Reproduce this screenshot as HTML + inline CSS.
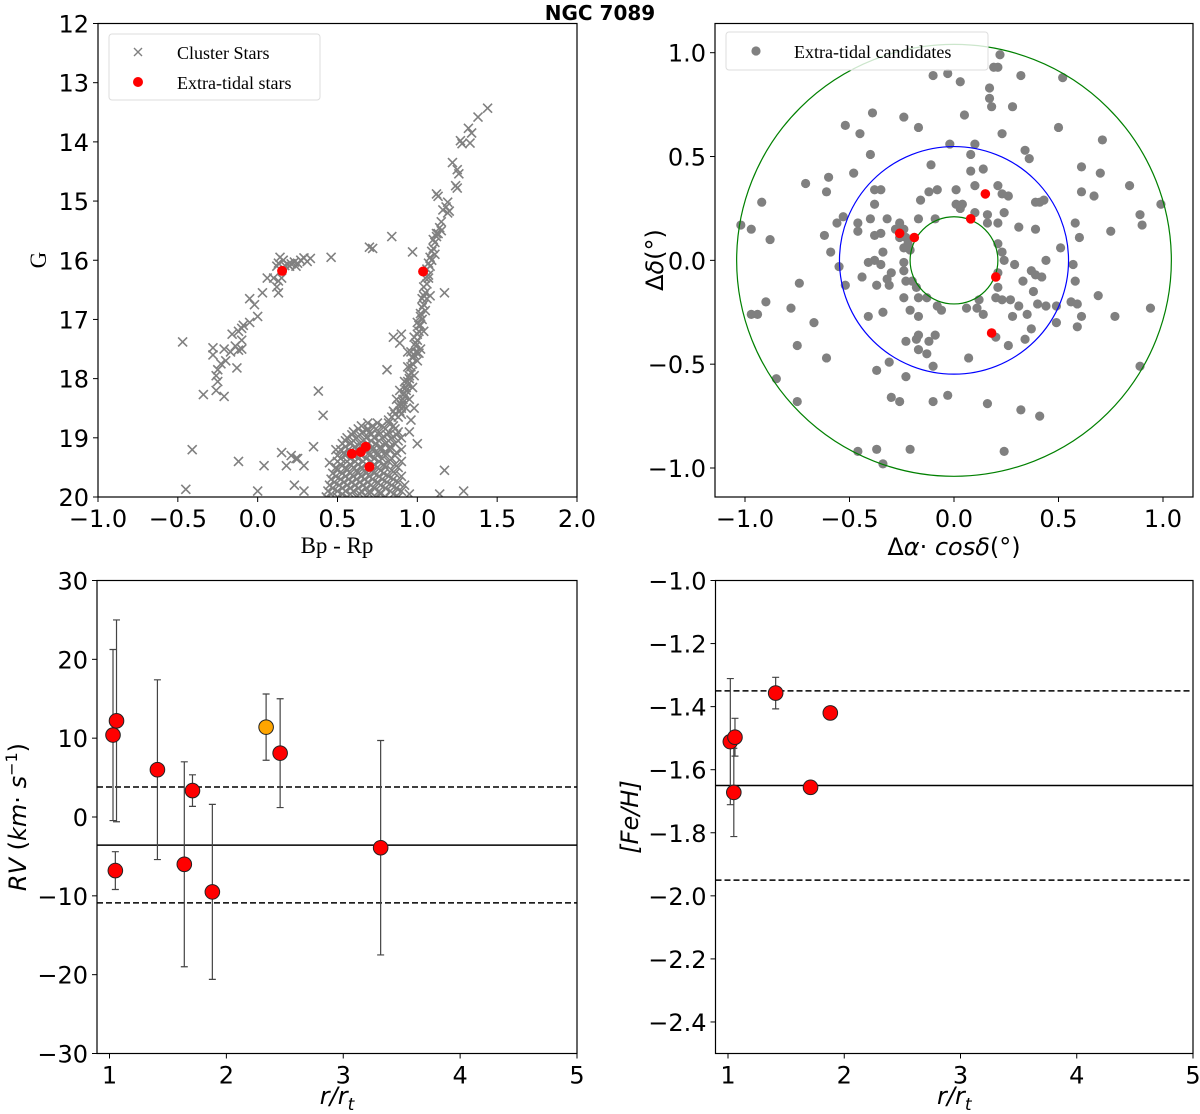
<!DOCTYPE html>
<html><head><meta charset="utf-8">
<style>
html,body{margin:0;padding:0;background:#fff;}
svg{display:block;}
.tick{font-family:"DejaVu Sans","Liberation Sans",sans-serif;font-size:24px;fill:#000;}
.serif{font-family:"Liberation Serif",serif;}
</style></head>
<body>
<svg id="fig" width="1200" height="1114" viewBox="0 0 1200 1114" xmlns="http://www.w3.org/2000/svg">
<text x="600" y="20" text-anchor="middle" font-family="DejaVu Sans, Liberation Sans, sans-serif" font-weight="bold" font-size="20">NGC 7089</text>
</svg>
<script>
// ---------- DATA ----------
const cmdRed = [[0.153,16.18],[1.036,16.19],[0.59,19.27],[0.646,19.24],[0.677,19.15],[0.70,19.49]];
const cmdStars = [
[1.44,13.43],[1.38,13.58],[1.32,13.77],[1.34,13.85],[1.27,13.98],[1.28,14.03],[1.33,14.02],[1.22,14.35],[1.25,14.47],[1.26,14.54],[1.24,14.74],[1.25,14.78],[1.12,14.88],[1.13,14.92],[1.19,15.02],[1.18,15.1],[1.19,15.2],[1.20,15.17],[1.16,15.15],[1.15,15.35],[1.14,15.45],[1.15,15.50],[1.13,15.55],[1.12,15.6],[1.11,15.7],[1.10,15.8],[1.11,15.9],[1.09,16.0],[1.08,16.1],[1.07,16.25],[1.06,16.4],[1.05,16.55],[1.06,16.65],[1.04,16.75],[1.05,16.85],[1.03,17.0],[1.02,17.1],[1.01,17.2],[1.00,17.35],[0.99,17.45],[0.98,17.6],[0.97,17.75],[0.96,17.9],[0.95,18.0],[0.94,18.1],[0.93,18.2],[0.92,18.3],[0.91,18.4],[0.9,18.5],
[1.07,16.3],[1.04,16.6],[1.08,16.6],[1.02,16.9],[1.0,17.05],[1.04,17.2],[0.98,17.3],[1.02,17.5],[0.96,17.55],[1.0,17.7],[0.94,17.8],[0.98,17.95],[0.92,18.05],[0.97,18.15],[0.89,18.2],[0.95,18.35],[0.87,18.35],[0.93,18.5],[0.85,18.55],[0.98,18.5],[0.88,18.65],[0.96,18.7],[0.82,18.7],
[1.12,15.55],[1.10,15.65],[1.09,15.85],[1.08,15.95],[1.07,16.05],[1.06,16.15],[1.05,16.3],[1.04,16.45],[1.03,16.65],[1.03,16.8],[1.02,16.95],[1.01,17.1],[1.0,17.25],[0.99,17.4],[0.99,17.55],[0.97,17.65],[0.96,17.8],[0.95,17.95],[0.94,18.05],[0.93,18.15],[0.92,18.25],[0.91,18.35],[0.9,18.45],[0.89,18.55],[0.88,18.45],[0.86,18.6],[0.84,18.65],[0.9,18.6],
[0.70,15.78],[0.72,15.8],[0.84,15.6],[0.97,15.86],[1.17,16.55],[0.85,17.3],[0.89,17.4],[0.90,17.25],[0.94,17.55],[1.01,17.57],[0.81,17.85],[0.95,18.9],[1.0,19.1],[1.17,19.55],[1.14,19.95],[1.29,19.9],
[0.46,15.95],[0.33,15.97],[0.29,15.96],[0.31,16.02],[0.27,16.0],[0.25,16.05],[0.23,16.03],[0.21,16.06],[0.19,16.07],[0.17,16.09],[0.16,16.0],[0.14,15.95],[0.13,16.05],[0.12,16.1],[0.2,16.1],[0.24,16.1],[0.1,16.3],[0.13,16.35],[0.15,16.3],[0.12,16.45],[0.13,16.55],[0.06,16.3],[0.03,16.55],[-0.05,16.65],[-0.02,16.75],[0.0,16.95],[-0.05,17.05],[-0.09,17.1],[-0.1,17.15],[-0.12,17.2],[-0.16,17.25],[-0.1,17.35],[-0.14,17.45],[-0.17,17.55],[-0.21,17.5],[-0.2,17.7],[-0.23,17.75],[-0.25,17.85],[-0.26,17.95],[-0.25,18.05],[-0.26,18.2],[-0.21,18.3],[-0.34,18.27],[-0.12,17.52],[-0.13,17.82],[-0.1,17.5],[-0.47,17.38],[-0.28,17.48],[-0.28,17.6],
[-0.41,19.2],[-0.45,19.87],[-0.12,19.4],[0.04,19.47],[0.15,19.25],[0.21,19.3],[0.18,19.47],[0.25,19.35],[0.29,19.47],[0.35,19.15],[0.23,19.8],[0.29,19.9],[0.0,19.9],[0.38,18.21],[0.41,18.62],[0.24,19.35],[0.45,19.42],[0.49,19.2],
[0.65,18.8],[0.72,18.8],[0.78,18.8],[0.85,18.8],
[0.6,18.9],[0.66,18.9],[0.7,18.9],[0.76,18.9],[0.82,18.9],[0.88,18.9],
[0.56,19.0],[0.62,19.0],[0.68,19.0],[0.73,19.0],[0.78,19.0],[0.84,19.0],[0.9,19.0],
[0.53,19.1],[0.58,19.1],[0.64,19.1],[0.69,19.1],[0.74,19.1],[0.8,19.1],[0.86,19.1],
[0.52,19.2],[0.57,19.2],[0.62,19.2],[0.67,19.2],[0.72,19.2],[0.77,19.2],[0.83,19.2],[0.9,19.2],
[0.5,19.3],[0.55,19.3],[0.6,19.3],[0.65,19.3],[0.7,19.3],[0.75,19.3],[0.8,19.3],[0.86,19.3],
[0.5,19.4],[0.56,19.4],[0.61,19.4],[0.66,19.4],[0.71,19.4],[0.76,19.4],[0.82,19.4],[0.9,19.4],
[0.49,19.5],[0.55,19.5],[0.6,19.5],[0.65,19.5],[0.7,19.5],[0.75,19.5],[0.8,19.5],[0.88,19.5],
[0.47,19.6],[0.53,19.6],[0.58,19.6],[0.63,19.6],[0.68,19.6],[0.73,19.6],[0.79,19.6],[0.86,19.6],
[0.46,19.7],[0.52,19.7],[0.57,19.7],[0.62,19.7],[0.67,19.7],[0.72,19.7],[0.78,19.7],[0.85,19.7],
[0.45,19.8],[0.51,19.8],[0.56,19.8],[0.61,19.8],[0.66,19.8],[0.71,19.8],[0.77,19.8],[0.84,19.8],[0.92,19.8],
[0.44,19.9],[0.5,19.9],[0.55,19.9],[0.6,19.9],[0.65,19.9],[0.7,19.9],[0.76,19.9],[0.83,19.9],[0.9,19.9],
[0.43,20.0],[0.5,20.0],[0.56,20.0],[0.62,20.0],[0.68,20.0],[0.74,20.0],[0.8,20.0],[0.88,20.0],
[0.69,18.75],[0.75,18.75],[0.82,18.75],[0.63,18.85],[0.69,18.85],[0.74,18.85],[0.8,18.85],[0.86,18.85],
[0.59,18.95],[0.64,18.95],[0.71,18.95],[0.76,18.95],[0.81,18.95],[0.87,18.95],
[0.55,19.05],[0.6,19.05],[0.66,19.05],[0.71,19.05],[0.76,19.05],[0.82,19.05],[0.88,19.05],
[0.55,19.15],[0.61,19.15],[0.72,19.15],[0.77,19.15],[0.83,19.15],
[0.54,19.25],[0.6,19.25],[0.7,19.25],[0.75,19.25],[0.8,19.25],[0.87,19.25],
[0.52,19.35],[0.58,19.35],[0.63,19.35],[0.68,19.35],[0.73,19.35],[0.78,19.35],[0.84,19.35],
[0.52,19.45],[0.58,19.45],[0.63,19.45],[0.68,19.45],[0.73,19.45],[0.79,19.45],[0.86,19.45],
[0.5,19.55],[0.56,19.55],[0.62,19.55],[0.67,19.55],[0.72,19.55],[0.77,19.55],[0.84,19.55],
[0.49,19.65],[0.55,19.65],[0.6,19.65],[0.65,19.65],[0.7,19.65],[0.76,19.65],[0.82,19.65],[0.9,19.65],
[0.48,19.75],[0.54,19.75],[0.59,19.75],[0.64,19.75],[0.69,19.75],[0.75,19.75],[0.81,19.75],[0.88,19.75],
[0.47,19.85],[0.53,19.85],[0.58,19.85],[0.63,19.85],[0.68,19.85],[0.73,19.85],[0.8,19.85],[0.87,19.85],
[0.46,19.95],[0.53,19.95],[0.58,19.95],[0.64,19.95],[0.7,19.95],[0.77,19.95],[0.85,19.95],[0.95,19.95]
];
const skyRed = [[0.15,0.32],[0.08,0.20],[-0.26,0.13],[-0.19,0.11],[0.20,-0.08],[0.18,-0.35]];
const skyStars = [
[0.22,0.99],[0.19,0.93],[0.21,0.93],[-0.10,0.89],[-0.03,0.90],[0.03,0.86],[0.32,0.89],[0.52,0.88],[0.17,0.83],[0.17,0.78],[0.18,0.74],[0.28,0.74],[-0.39,0.71],[-0.24,0.69],[0.05,0.70],[-0.52,0.65],[-0.17,0.64],[0.50,0.64],[-0.45,0.61],[0.23,0.61],[0.71,0.58],[-0.02,0.56],[0.10,0.56],[-0.40,0.51],[0.08,0.51],[0.34,0.53],[0.36,0.49],[-0.11,0.46],[0.08,0.43],[0.14,0.44],[0.61,0.45],[-0.48,0.42],[-0.60,0.40],[0.70,0.42],[-0.71,0.37],[-0.61,0.33],[0.10,0.36],[0.21,0.36],[0.84,0.36],[-0.38,0.34],[-0.35,0.34],[-0.12,0.33],[-0.08,0.34],[0.01,0.34],[0.23,0.32],[0.26,0.31],[0.61,0.33],[0.67,0.31],[-0.92,0.28],[-0.38,0.27],[-0.16,0.29],[0.01,0.27],[0.04,0.27],[0.03,0.25],[0.39,0.28],[0.41,0.28],[0.43,0.29],[0.99,0.27],[-1.02,0.17],[-0.97,0.15],[-0.88,0.10],[-0.56,0.18],[-0.53,0.21],[-0.46,0.18],[-0.46,0.14],[-0.40,0.20],[-0.32,0.20],[-0.26,0.18],[-0.24,0.15],[-0.17,0.20],[-0.09,0.20],[0.10,0.23],[0.16,0.22],[0.16,0.18],[0.24,0.23],[0.21,0.18],[0.31,0.16],[0.39,0.15],[0.58,0.18],[0.60,0.11],[0.75,0.14],[0.89,0.22],[0.90,0.17],[-0.62,0.12],[-0.38,0.12],[-0.35,0.13],[-0.24,0.06],[-0.22,0.08],[-0.59,0.04],[-0.34,0.04],[0.21,0.08],[0.23,0.04],[0.51,0.06],[-0.55,-0.03],[-0.41,-0.01],[-0.38,0],[-0.35,-0.02],[-0.24,-0.01],[-0.24,-0.05],[0.24,0],[0.29,-0.02],[0.44,0],[0.57,-0.02],[0.37,-0.05],[0.39,-0.07],[0.42,-0.08],[-0.74,-0.11],[-0.52,-0.12],[-0.44,-0.08],[-0.37,-0.12],[-0.32,-0.09],[-0.31,-0.12],[-0.30,-0.06],[-0.23,-0.10],[-0.20,-0.10],[-0.18,-0.13],[0.21,-0.06],[0.21,-0.13],[0.33,-0.10],[0.58,-0.10],[0.38,-0.15],[-0.90,-0.20],[-0.24,-0.18],[-0.17,-0.18],[-0.13,-0.18],[0.12,-0.19],[0.11,-0.23],[0.20,-0.18],[0.23,-0.19],[0.27,-0.19],[0.40,-0.21],[0.44,-0.22],[0.56,-0.20],[0.59,-0.21],[0.69,-0.17],[-0.97,-0.26],[-0.94,-0.26],[-0.78,-0.23],[-0.34,-0.25],[-0.21,-0.24],[-0.08,-0.22],[-0.06,-0.24],[0.06,-0.23],[0.14,-0.26],[0.31,-0.22],[0.35,-0.26],[0.49,-0.22],[0.61,-0.27],[0.94,-0.23],[-0.67,-0.30],[-0.41,-0.27],[-0.17,-0.27],[0.28,-0.27],[0.49,-0.30],[0.59,-0.32],[0.77,-0.27],[-0.23,-0.39],[-0.18,-0.38],[-0.17,-0.36],[-0.12,-0.39],[-0.09,-0.36],[0.20,-0.37],[0.34,-0.38],[0.37,-0.33],[0.26,-0.41],[-0.75,-0.41],[-0.17,-0.43],[-0.13,-0.45],[0.07,-0.47],[-0.61,-0.47],[-0.31,-0.49],[-0.10,-0.51],[0.89,-0.51],[-0.37,-0.53],[-0.23,-0.56],[-0.85,-0.57],[-0.30,-0.66],[-0.26,-0.68],[-0.10,-0.68],[-0.03,-0.65],[0.16,-0.69],[0.32,-0.72],[0.41,-0.75],[-0.75,-0.68],[-0.46,-0.92],[-0.37,-0.91],[-0.34,-0.98],[-0.21,-0.91],[0.24,-0.92],[-0.28,0.15],[-0.26,0.11],[-0.23,0.11],[-0.21,0.05]
];
const ringRadii = [0.21, 0.548, 1.04];
const ringColors = ["green","blue","green"];

const rvR = [1.03,1.06,1.05,1.41,1.64,1.71,1.88,2.34,2.46,3.32];
const rvVal = [10.4,12.2,-6.8,6.0,-6.0,3.35,-9.5,11.4,8.1,-3.9];
const rvErr = [10.85,12.8,2.4,11.4,13.0,2.0,11.1,4.2,6.9,13.6];
const rvMean = -3.57, rvUp = 3.8, rvLow = -10.9;

const feR = [1.02,1.06,1.05,1.41,1.71,1.88];
const feVal = [-1.511,-1.497,-1.672,-1.357,-1.656,-1.42];
const feErr = [0.2,0.06,0.14,0.05,0,0];
const feMean = -1.65, feUp = -1.35, feLow = -1.95;

const cmdXTicks = [-1.0,-0.5,0.0,0.5,1.0,1.5,2.0];
const cmdYTicks = [12,13,14,15,16,17,18,19,20];
const skyTicks = [-1.0,-0.5,0.0,0.5,1.0];
const rTicks = [1,2,3,4,5];
const rvTicks = [-30,-20,-10,0,10,20,30];
const feTicks = [-1.0,-1.2,-1.4,-1.6,-1.8,-2.0,-2.2,-2.4];

// ---------- HELPERS ----------
const NS="http://www.w3.org/2000/svg";
const svg=document.getElementById('fig');
function el(tag,attrs,parent){const e=document.createElementNS(NS,tag);for(const k in attrs)e.setAttribute(k,attrs[k]);(parent||svg).appendChild(e);return e;}
function lin(d0,d1,p0,p1){return v=>p0+(v-d0)*(p1-p0)/(d1-d0);}
function fmt(v,dec){const s=Math.abs(v).toFixed(dec);return (v<0?'\u2212':'')+s;}

function axes(name,L,T,R,B,sx,sy,xt,yt,xdec,ydec){
  const g=el('g',{});
  
  
  xt.forEach(v=>{const x=sx(v);
    const t=el('line',{x1:x,x2:x,y1:B,y2:B+5,stroke:'#000','stroke-width':1},g);
    
    const tx=el('text',{x:x,y:B+30,'text-anchor':'middle',class:'tick'},g);tx.textContent=fmt(v,xdec);
    });
  yt.forEach(v=>{const y=sy(v);
    const t=el('line',{x1:L-5,x2:L,y1:y,y2:y,stroke:'#000','stroke-width':1},g);
    
    const tx=el('text',{x:L-9,y:y+9,'text-anchor':'end',class:'tick'},g);tx.textContent=fmt(v,ydec);
    });
  return g;
}
function frame(name,L,T,R,B){const r=el('rect',{x:L,y:T,width:R-L,height:B-T,fill:'none',stroke:'#000','stroke-width':1.2});
  }
function clip(id,L,T,R,B){const d=el('defs',{});const c=el('clipPath',{id:id},d);el('rect',{x:L,y:T,width:R-L,height:B-T},c);}

// ---------- PANEL 1: CMD ----------
(function(){
const L=98,T=23.5,R=577,B=497;
const sx=lin(-1,2,L,R), sy=lin(12,20,T,B);
clip('c1',L,T,R,B);
const g=el('g',{'clip-path':'url(#c1)'});

cmdStars.forEach(p=>{const x=sx(p[0]),y=sy(p[1]),s=4.5;
  const m=el('path',{d:`M${x-s},${y-s}L${x+s},${y+s}M${x-s},${y+s}L${x+s},${y-s}`,stroke:'#808080','stroke-width':1.6,fill:'none'},g);
  });
cmdRed.forEach(p=>{const c=el('circle',{cx:sx(p[0]),cy:sy(p[1]),r:5,fill:'#ff0000'},g);
  });
frame('cmd',L,T,R,B);
axes('cmd',L,T,R,B,sx,sy,cmdXTicks,cmdYTicks,1,0);
const lg=el('g',{});
el('rect',{x:109,y:34,width:211,height:66,rx:3,fill:'#fff',stroke:'#ddd'},lg);
el('path',{d:'M134,48L142,56M134,56L142,48',stroke:'#808080','stroke-width':1.4},lg);
el('circle',{cx:138,cy:82,r:5,fill:'#ff0000'},lg);
const t1=el('text',{x:177,y:59,class:'serif','font-size':18},lg);t1.textContent='Cluster Stars';

const t2=el('text',{x:177,y:89,class:'serif','font-size':18},lg);t2.textContent='Extra-tidal stars';

const xl=el('text',{x:337,y:553,'text-anchor':'middle',class:'serif','font-size':23});xl.textContent='Bp - Rp';

const yl=el('text',{x:0,y:0,'text-anchor':'middle',class:'serif','font-size':23,transform:'translate(46,260) rotate(-90)'});yl.textContent='G';

})();

// ---------- PANEL 2: SKY ----------
(function(){
const L=715,T=23.5,R=1193,B=497;
const sx=lin(-1,1,745,1163), sy=lin(1,-1,52.7,468);
clip('c2',L,T,R,B);
const g=el('g',{'clip-path':'url(#c2)'});

skyStars.forEach(p=>{const c=el('circle',{cx:sx(p[0]),cy:sy(p[1]),r:4.6,fill:'#808080'},g);
  });
ringRadii.forEach((r,i)=>{const c=el('ellipse',{cx:sx(0),cy:sy(0),rx:sx(r)-sx(0),ry:sy(0)-sy(r),fill:'none',stroke:ringColors[i],'stroke-width':1.2},g);
  });
skyRed.forEach(p=>{const c=el('circle',{cx:sx(p[0]),cy:sy(p[1]),r:4.8,fill:'#ff0000'},g);
  });
frame('sky',L,T,R,B);
axes('sky',L,T,R,B,sx,sy,skyTicks,skyTicks,1,1);
const lg=el('g',{});
el('rect',{x:726,y:32,width:262,height:38,rx:3,fill:'#fff','fill-opacity':0.8,stroke:'#ddd'},lg);
el('circle',{cx:756,cy:51,r:4.6,fill:'#808080'},lg);
const t1=el('text',{x:794,y:58,class:'serif','font-size':18},lg);t1.textContent='Extra-tidal candidates';

const xl=el('text',{x:954,y:555,'text-anchor':'middle','font-family':'DejaVu Sans, sans-serif','font-size':24});
xl.innerHTML='\u0394<tspan font-style="italic">\u03b1</tspan>\u00b7 <tspan font-style="italic">cos\u03b4</tspan>(\u00b0)';

const yl=el('text',{x:0,y:0,'text-anchor':'middle','font-family':'DejaVu Sans, sans-serif','font-size':24,transform:'translate(663,260) rotate(-90)'});
yl.innerHTML='\u0394<tspan font-style="italic">\u03b4</tspan>(\u00b0)';

})();

// ---------- PANEL 3 & 4 ----------
function errPanel(name,L,R,dmin,dmax,ticks,dec,rs,vals,errs,mean,up,low,colors,ylabel,ylx){
const T=580.5,B=1053.5;
const sx=lin(1,5,L+12.5,R), sy=lin(dmax,dmin,T,B);
clip('c'+name,L,T,R,B);
const g=el('g',{'clip-path':'url(#c'+name+')'});

[[mean,'none'],[up,'6,3'],[low,'6,3']].forEach((h,i)=>{const ln=el('line',{x1:L,x2:R,y1:sy(h[0]),y2:sy(h[0]),stroke:'#000','stroke-width':1.5,'stroke-dasharray':h[1]},g);
  });
rs.forEach((r,i)=>{ if(errs[i]>0){const x=sx(r),y1=sy(vals[i]+errs[i]),y2=sy(vals[i]-errs[i]);
  const e=el('path',{d:`M${x},${y1}L${x},${y2}M${x-3.5},${y1}L${x+3.5},${y1}M${x-3.5},${y2}L${x+3.5},${y2}`,stroke:'#444','stroke-width':1.2,fill:'none'},g);
  }});
rs.forEach((r,i)=>{const c=el('circle',{cx:sx(r),cy:sy(vals[i]),r:7.3,fill:colors[i],stroke:'#222','stroke-width':1},g);
  });
frame(name,L,T,R,B);
axes(name,L,T,R,B,sx,sy,rTicks,ticks,0,dec);
const xl=el('text',{x:(L+R)/2,y:1104,'text-anchor':'middle','font-family':'DejaVu Sans, sans-serif','font-size':24,'font-style':'italic'});
xl.innerHTML='r/r<tspan font-size="17" dy="6">t</tspan>';

const yl=el('text',{x:0,y:0,'text-anchor':'middle','font-family':'DejaVu Sans, sans-serif','font-size':24,transform:`translate(${ylx},${(T+B)/2}) rotate(-90)`});
yl.innerHTML=ylabel;

}
errPanel('rv',97,577,-30,30,rvTicks,0,rvR,rvVal,rvErr,rvMean,rvUp,rvLow,
  ['#ff0000','#ff0000','#ff0000','#ff0000','#ff0000','#ff0000','#ff0000','#ffa500','#ff0000','#ff0000'],
  '<tspan font-style="italic">RV</tspan> (<tspan font-style="italic">km</tspan>\u00b7 <tspan font-style="italic">s</tspan><tspan font-size="16" dy="-9">\u22121</tspan><tspan dy="9">)</tspan>',26);
errPanel('feh',715.5,1193,-2.5,-1.0,feTicks,1,feR,feVal,feErr,feMean,feUp,feLow,
  ['#ff0000','#ff0000','#ff0000','#ff0000','#ff0000','#ff0000'],
  '<tspan font-style="italic">[Fe/H]</tspan>',638);
</script>
</body></html>
